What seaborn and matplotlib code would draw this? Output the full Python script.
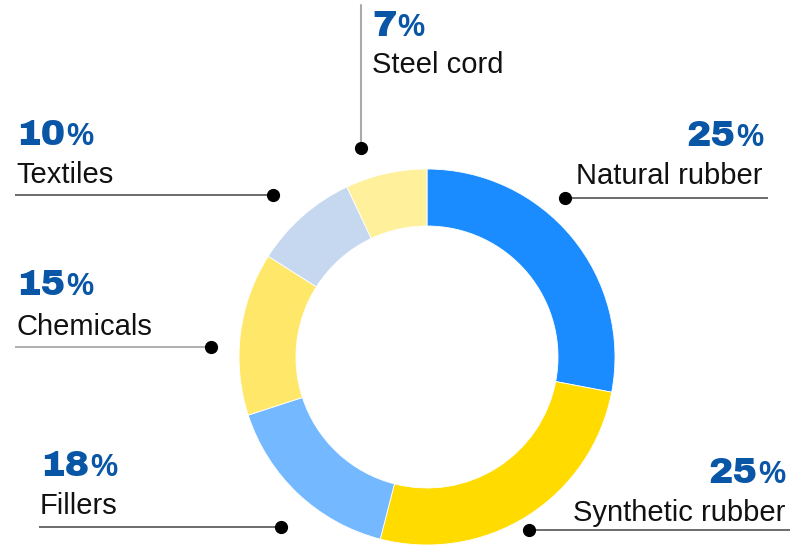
import matplotlib
matplotlib.use("Agg")
import matplotlib.pyplot as plt
import seaborn as sns

# ---- data ----
categories = ["Natural rubber", "Synthetic rubber", "Fillers", "Chemicals", "Textiles", "Steel cord"]
slice_values = [28, 26, 16, 14, 9, 7]          # arc sizes as drawn
label_percents = ["25", "25", "18", "15", "10", "7"]  # numbers printed in labels
colors = ["#1a8cff", "#ffdb00", "#74b9ff", "#ffe76a", "#c6d8f0", "#fff09c"]

sns.set_theme(style="white")
plt.rcParams["font.family"] = ["Liberation Sans", "DejaVu Sans"]

W, H = 791, 545
fig = plt.figure(figsize=(W / 100, H / 100), dpi=100)
ax = fig.add_axes([0, 0, 1, 1])

def Y(py):
    return H - py

cx, cy, R, r_in = 427, 357, 188, 131
ax.pie(slice_values, colors=colors, startangle=90, counterclock=False,
       center=(cx, Y(cy)), radius=R,
       wedgeprops=dict(width=R - r_in, edgecolor="white", linewidth=0.6))
ax.set_xlim(0, W)
ax.set_ylim(0, H)
ax.set_aspect("equal")
ax.axis("off")

num_color = "#0a56a6"
NUM_FAMILY = ["Archivo Black", "Lato", "Liberation Sans"]
NUM_FS, PCT_FS, LAB_FS = 26.5, 22, 21
fig.canvas.draw()
renderer = fig.canvas.get_renderer()

def pct_label(x, y_base, num, align):
    if align == "left":
        t = ax.text(x, Y(y_base), num, fontsize=NUM_FS, fontweight=900, family=NUM_FAMILY,
                    color=num_color, ha="left", va="baseline")
        bb = t.get_window_extent(renderer)
        ax.text(bb.x1 + 1, Y(y_base), "%", fontsize=PCT_FS, fontweight="bold",
                color=num_color, ha="left", va="baseline")
    else:
        p = ax.text(x, Y(y_base), "%", fontsize=PCT_FS, fontweight="bold",
                    color=num_color, ha="right", va="baseline")
        bb = p.get_window_extent(renderer)
        ax.text(bb.x0 - 1, Y(y_base), num, fontsize=NUM_FS, fontweight=900, family=NUM_FAMILY,
                color=num_color, ha="right", va="baseline")

layout = {
    "Natural rubber":   dict(x=763, pb=146, nb=184, ha="right", ly=198, lx=(565, 768), dot=565),
    "Synthetic rubber": dict(x=785, pb=483, nb=521, ha="right", ly=530, lx=(529, 790), dot=529),
    "Fillers":          dict(x=40,  pb=476, nb=514, ha="left",  ly=527, lx=(39, 281), dot=281),
    "Chemicals":        dict(x=16,  pb=295, nb=335, ha="left",  ly=347, lx=(15, 211), dot=211),
    "Textiles":         dict(x=16,  pb=145, nb=183, ha="left",  ly=195, lx=(15, 273), dot=273),
}

for cat, pct in zip(categories, label_percents):
    if cat == "Steel cord":
        continue
    L = layout[cat]
    pct_label(L["x"], L["pb"], pct, L["ha"])
    ax.text(L["x"], Y(L["nb"]), cat, fontsize=LAB_FS, color="#111111",
            ha=L["ha"], va="baseline")
    lc = "#999999" if cat == "Chemicals" else "#444444"
    ax.plot(L["lx"], [Y(L["ly"])] * 2, color=lc, lw=1.1, solid_capstyle="butt")
    ax.plot([L["dot"]], [Y(L["ly"])], "o", color="black", ms=8.5)

# Steel cord (vertical leader)
i = categories.index("Steel cord")
pct_label(372, 36, label_percents[i], "left")
ax.text(372, Y(73), categories[i], fontsize=LAB_FS, color="#111111", ha="left", va="baseline")
ax.plot([361, 361], [Y(5), Y(148)], color="#aaaaaa", lw=1.5)
ax.plot([361], [Y(148)], "o", color="black", ms=8.5)

fig.savefig("out.png", dpi=100, facecolor="white")
